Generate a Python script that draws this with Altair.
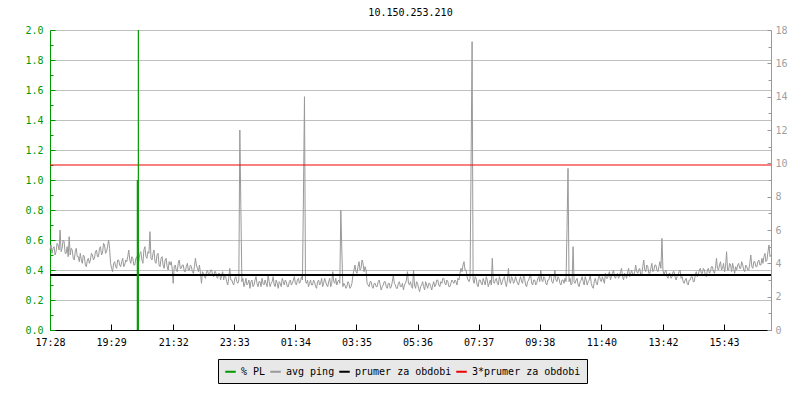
import json
import altair as alt
import pandas as pd

# ---------------- data ----------------
title_text = "10.150.253.210"
tick_labels = ["17:28", "19:29", "21:32", "23:33", "01:34", "03:35",
               "05:36", "07:37", "09:38", "11:40", "13:42", "15:43"]
tick_minutes = [0, 121, 244, 365, 486, 607, 728, 849, 970, 1092, 1214, 1335]
span_minutes = 1428
step_minutes = 2

# avg ping in ms (right axis), one sample every 2 minutes from 17:28
avg_ping_ms = [
    4.8, 5.1, 4.6, 4.9, 5.0, 4.5, 4.7, 5.2, 5.1, 4.8, 6.0, 4.7, 4.9, 5.4, 5.3, 4.6, 4.6, 5.0, 4.4, 5.6,
    4.5, 4.9, 4.8, 4.3, 4.2, 4.7, 4.9, 4.4, 4.4, 4.1, 4.6, 4.2, 4.0, 4.5, 4.4, 3.9, 3.8, 4.2, 4.3, 4.0,
    4.2, 4.6, 4.5, 4.2, 4.3, 4.7, 4.8, 4.4, 4.4, 4.9, 5.0, 4.5, 4.6, 5.2, 5.1, 4.6, 4.7, 5.0, 5.4, 4.9,
    4.0, 3.7, 3.5, 4.0, 4.1, 3.8, 3.7, 4.2, 4.2, 3.9, 3.8, 4.1, 4.3, 3.8, 3.9, 4.2, 4.1, 4.4, 4.8, 4.2,
    4.0, 4.4, 4.3, 3.9, 3.9, 4.3, 4.4, 4.0, 4.1, 4.6, 4.7, 4.2, 4.0, 4.8, 5.0, 4.4, 4.3, 4.7, 4.6, 5.9,
    4.3, 4.2, 4.6, 4.8, 4.1, 4.0, 4.5, 4.6, 3.9, 3.8, 4.3, 4.4, 3.9, 3.7, 4.2, 4.3, 3.8, 3.6, 4.1, 3.9,
    4.1, 3.7, 2.8, 3.8, 3.9, 3.6, 3.5, 4.0, 4.2, 3.7, 3.7, 3.9, 3.9, 3.5, 3.5, 3.8, 4.0, 3.6, 3.6, 3.9,
    3.8, 3.5, 3.4, 3.8, 4.3, 3.9, 3.7, 3.5, 3.9, 3.4, 2.8, 3.5, 3.4, 3.2, 3.1, 3.5, 3.6, 3.3, 3.3, 3.6,
    3.6, 3.3, 3.2, 3.5, 3.5, 3.2, 3.1, 3.4, 3.4, 3.0, 3.3, 3.5, 3.0, 3.3, 3.2, 2.9, 2.7, 3.1, 3.7, 3.0,
    3.0, 2.8, 2.7, 3.1, 3.2, 2.9, 2.8, 3.0, 12.0, 7.4, 2.9, 3.1, 2.6, 2.8, 3.1, 2.7, 2.8, 3.0, 2.5, 2.9,
    3.0, 2.6, 2.7, 3.0, 3.2, 2.8, 2.6, 2.9, 2.9, 2.6, 3.1, 2.8, 2.7, 3.0, 2.8, 2.6, 3.3, 2.9, 2.6, 2.8,
    2.9, 3.2, 2.7, 2.6, 3.0, 2.8, 2.5, 2.9, 2.8, 2.6, 3.1, 2.9, 2.7, 3.0, 2.9, 2.6, 2.6, 2.9, 3.0, 2.7,
    2.8, 3.0, 3.2, 2.8, 2.7, 3.0, 3.1, 2.8, 2.9, 3.2, 3.0, 8.1, 14.0, 2.9, 2.8, 3.0, 2.6, 2.8, 3.0, 2.7,
    2.7, 3.0, 2.9, 2.6, 2.5, 2.9, 3.0, 2.7, 2.8, 3.1, 2.6, 2.8, 3.1, 2.9, 2.7, 2.6, 2.9, 3.1, 2.6, 2.8,
    3.5, 2.9, 2.8, 3.1, 2.7, 2.9, 3.0, 2.8, 7.2, 4.8, 2.6, 2.8, 2.7, 2.5, 2.6, 2.9, 2.8, 2.5, 2.6, 2.8,
    3.3, 3.6, 3.9, 3.5, 3.4, 3.8, 4.1, 3.6, 3.7, 4.2, 4.0, 3.5, 3.8, 3.6, 2.8, 2.7, 2.6, 2.9, 2.9, 2.6,
    2.5, 2.8, 2.8, 2.6, 2.6, 2.9, 3.0, 2.7, 2.4, 2.6, 2.7, 2.9, 2.9, 2.6, 2.5, 2.8, 2.8, 2.5, 2.6, 2.9,
    3.3, 2.8, 2.7, 2.5, 2.5, 2.8, 2.9, 2.6, 2.6, 2.8, 2.4, 2.7, 2.8, 3.0, 3.5, 2.8, 2.7, 2.9, 2.6, 2.5,
    3.6, 2.7, 2.5, 2.9, 2.8, 2.5, 2.3, 2.6, 2.7, 2.9, 2.6, 2.4, 2.9, 2.7, 2.5, 2.8, 2.8, 2.6, 2.4, 2.7,
    2.9, 2.6, 2.7, 3.0, 3.0, 2.7, 2.6, 2.9, 2.8, 3.1, 3.1, 2.8, 2.7, 3.0, 2.9, 2.6, 2.6, 2.8, 3.0, 2.9,
    2.8, 3.0, 2.9, 2.7, 3.1, 3.0, 3.4, 3.7, 3.5, 3.9, 4.1, 3.6, 3.6, 3.2, 3.0, 2.9, 3.1, 10.1, 17.3, 3.0,
    2.8, 3.2, 3.1, 2.7, 2.6, 3.0, 3.0, 2.8, 2.7, 3.1, 2.9, 2.7, 3.2, 3.0, 2.6, 2.8, 3.0, 2.7, 4.3, 2.9,
    2.8, 3.0, 3.1, 2.8, 2.7, 3.2, 3.0, 2.7, 2.9, 3.1, 3.2, 2.8, 2.6, 3.0, 3.7, 2.9, 2.8, 3.2, 3.1, 2.8,
    2.9, 3.2, 3.0, 2.8, 2.7, 3.0, 3.2, 2.9, 2.8, 3.3, 3.1, 2.7, 2.6, 2.9, 3.0, 3.2, 3.3, 2.8, 2.7, 3.0,
    3.0, 2.7, 2.8, 3.1, 3.2, 2.9, 3.6, 3.0, 2.9, 3.2, 3.1, 2.8, 2.7, 3.0, 3.0, 3.3, 3.3, 2.9, 2.8, 3.1,
    3.6, 3.0, 2.9, 3.2, 3.1, 2.8, 2.7, 3.0, 3.0, 2.8, 3.1, 2.9, 6.1, 9.7, 2.9, 3.1, 2.7, 2.8, 5.0, 2.9,
    2.8, 3.0, 3.1, 2.7, 2.6, 2.9, 3.0, 3.2, 2.9, 2.7, 3.2, 3.0, 2.7, 2.9, 3.0, 3.3, 2.8, 2.6, 2.5, 2.9,
    3.1, 2.8, 2.7, 3.1, 3.3, 3.0, 2.9, 3.2, 3.0, 2.8, 3.4, 3.1, 3.1, 3.3, 3.5, 3.0, 3.2, 3.4, 3.6, 3.2,
    3.1, 3.3, 3.4, 3.1, 3.2, 3.5, 3.7, 3.2, 3.0, 3.4, 3.3, 3.1, 3.5, 3.7, 3.2, 3.4, 3.6, 3.3, 3.3, 3.5,
    3.9, 3.5, 3.4, 3.6, 3.7, 3.3, 3.3, 3.8, 4.2, 3.6, 3.5, 3.9, 3.8, 3.4, 3.4, 3.7, 4.0, 3.5, 3.6, 3.9,
    3.9, 3.6, 3.5, 3.8, 4.1, 3.7, 5.5, 3.6, 3.3, 3.5, 3.6, 3.2, 3.1, 3.4, 3.4, 3.1, 3.2, 3.5, 3.5, 3.2,
    3.0, 3.2, 3.3, 3.5, 3.6, 3.1, 3.2, 2.9, 2.8, 3.0, 3.1, 2.8, 2.7, 3.0, 3.0, 3.2, 3.2, 2.9, 2.9, 3.3,
    3.5, 3.2, 3.3, 3.6, 3.7, 3.4, 3.4, 3.7, 3.6, 3.3, 3.2, 3.6, 3.7, 3.4, 3.5, 3.8, 3.8, 3.5, 3.4, 3.7,
    4.3, 3.7, 3.6, 3.9, 4.1, 3.6, 3.7, 4.0, 3.5, 3.8, 4.7, 3.6, 3.6, 4.0, 3.9, 3.5, 4.0, 3.7, 3.4, 3.8,
    3.6, 3.9, 4.0, 3.7, 3.7, 4.1, 3.9, 3.6, 3.5, 3.9, 3.8, 3.6, 3.6, 4.0, 4.5, 3.8, 3.7, 4.1, 4.1, 3.8,
    3.8, 4.1, 4.2, 3.9, 3.9, 4.3, 4.0, 4.4, 4.6, 4.1, 4.2, 4.7, 5.1, 4.4, 4.5,
]

# packet loss (%), left axis; the second sample goes off the top of the chart
pl_minutes = [173, 175]
pl_percent = [1.0, 4.0]

mean_ping_ms = 3.3

series_names = ["% PL", "avg ping", "prumer za obdobi", "3*prumer za obdobi"]
series_colors = ["#009900", "#999999", "#000000", "#ee0000"]

left_major = [round(0.2 * k, 1) for k in range(11)]
left_minor = [round(0.1 + 0.2 * k, 1) for k in range(10)]
right_major = list(range(0, 19, 2))
right_minor = list(range(1, 18, 2))

# ---------------- tables ----------------
ping_df = pd.DataFrame({
    "minute": [i * step_minutes for i in range(len(avg_ping_ms))],
    "ping": avg_ping_ms,
    "series": "avg ping",
})
pl_df = pd.DataFrame({"minute": pl_minutes, "pl": pl_percent, "series": "% PL"})
mean_df = pd.DataFrame({"value": [mean_ping_ms], "series": ["prumer za obdobi"]})
triple_df = pd.DataFrame({"value": [3 * mean_ping_ms], "series": ["3*prumer za obdobi"]})

FONT = "DejaVu Sans Mono"
GREEN = series_colors[0]
GRAY = "#999999"

label_map = json.dumps({str(m): l for m, l in zip(tick_minutes, tick_labels)})

x_enc = alt.X(
    "minute:Q",
    scale=alt.Scale(domain=[0, span_minutes], nice=False, zero=False),
    axis=alt.Axis(
        values=tick_minutes, labelExpr=label_map + "[datum.value]",
        title=None, grid=False, domainColor="black", tickColor="black",
        tickSize={"expr": "-6"}, labelPadding=13, labelColor="black",
        labelFont=FONT, labelFontSize=10, labelFlush=False,
    ),
)

left_scale = alt.Scale(domain=[0, 2], nice=False, zero=True, clamp=True)
right_scale = alt.Scale(domain=[0, 18], nice=False, zero=True)

color_scale = alt.Scale(domain=series_names, range=series_colors)
legend = alt.Legend(
    title=None, orient="none", legendX=168, legendY=329, direction="horizontal",
    symbolType="stroke", symbolStrokeWidth=2, symbolSize=110,
    labelFont=FONT, labelFontSize=10, labelColor="black", labelOffset=4,
    columnPadding=0, padding=6, fillColor="#e8e8e8", strokeColor="black",
)


def color_field():
    return alt.Color("series:N", scale=color_scale, legend=legend)


# ping line, right axis with labels
ping_layer = alt.Chart(ping_df).mark_line(strokeWidth=1).encode(
    x=x_enc,
    y=alt.Y("ping:Q", scale=right_scale, axis=alt.Axis(
        orient="right", values=right_major, title=None, grid=False,
        domainColor=GRAY, tickColor=GRAY, tickSize={"expr": "-4"},
        labelPadding=8, labelColor="#a0a0a0", labelFont=FONT, labelFontSize=10,
        format="d",
    )),
    color=color_field(),
)

# mean line (carries right minor ticks)
mean_layer = alt.Chart(mean_df).mark_rule(strokeWidth=2).encode(
    y=alt.Y("value:Q", scale=right_scale, axis=alt.Axis(
        orient="right", values=right_minor, title=None, grid=False,
        labels=False, domain=False, tickColor=GRAY, tickSize={"expr": "-3"},
    )),
    color=color_field(),
)

# 3 * mean line
triple_layer = alt.Chart(triple_df).mark_rule(strokeWidth=1).encode(
    y=alt.Y("value:Q", scale=right_scale, axis=None),
    color=color_field(),
)

# packet loss rules, left axis with labels and grid
pl_layer = alt.Chart(pl_df).mark_rule(strokeWidth=1.2).encode(
    x=x_enc,
    y=alt.Y("pl:Q", scale=left_scale, axis=alt.Axis(
        orient="left", values=left_major, title=None, format=".1f",
        grid=True, gridColor="#c0c0c0", gridWidth=1,
        domainColor=GREEN, tickColor=GREEN, tickSize={"expr": "-5"},
        labelPadding=12, labelColor=GREEN, labelFont=FONT, labelFontSize=10,
    )),
    y2=alt.Y2(datum=0),
    color=color_field(),
)

# invisible layer carrying left minor ticks
left_minor_layer = alt.Chart(pl_df).mark_rule(opacity=0).encode(
    y=alt.Y(datum=0, scale=left_scale, axis=alt.Axis(
        orient="left", values=left_minor, title=None, grid=False,
        labels=False, domain=False, tickColor=GREEN, tickSize={"expr": "-3"},
    )),
)

chart = (
    alt.layer(ping_layer, mean_layer, triple_layer, pl_layer, left_minor_layer)
    .resolve_scale(y="independent")
    .properties(
        width=721, height=300,
        autosize=alt.AutoSizeParams(type="none"),
        padding={"left": 42, "top": 22, "right": 20, "bottom": 58},
        background="white",
        title=alt.TitleParams(
            title_text, font=FONT, fontSize=10, fontWeight="normal",
            color="black", anchor="middle", offset=7,
        ),
    )
    .configure_view(stroke=None)
)

chart.save("out.html", embed_options={"renderer": "svg", "actions": False})
